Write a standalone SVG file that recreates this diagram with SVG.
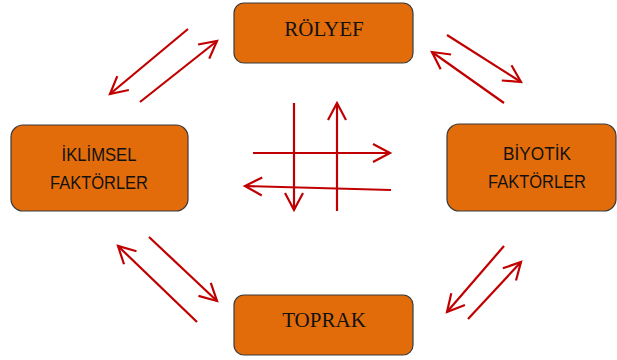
<svg xmlns="http://www.w3.org/2000/svg" width="617" height="360" viewBox="0 0 617 360">
  <defs>
    <marker id="head" viewBox="-20 -12 24 24" markerWidth="24" markerHeight="24" refX="0" refY="0" orient="auto" markerUnits="userSpaceOnUse" overflow="visible">
      <path d="M-17,-9 L0,0 L-17,9" fill="none" stroke="#C00000" stroke-width="2.2" stroke-linejoin="miter"/>
    </marker>
  </defs>
  <style>
    .box { fill: #E36C0A; stroke: #3A3A3A; stroke-width: 1.2; }
    .serif { font-family: "Liberation Serif", "Times New Roman", serif; font-size: 21px; fill: #111; text-anchor: middle; }
    .sans { font-family: "Liberation Sans", Arial, sans-serif; font-size: 17.5px; fill: #111; text-anchor: middle; }
    .arr { fill: none; stroke: #C00000; stroke-width: 2.2; marker-end: url(#head); }
  </style>
  <rect width="617" height="360" fill="#FFFFFF"/>

  <g id="rolyef">
    <rect class="box" x="234" y="3" width="179" height="60" rx="10"/>
    <text class="serif" x="324" y="36">RÖLYEF</text>
  </g>
  <g id="iklimsel">
    <rect class="box" x="11" y="125" width="177" height="86" rx="12"/>
    <text class="sans" x="99" y="161" textLength="75" lengthAdjust="spacingAndGlyphs">İKLİMSEL</text>
    <text class="sans" x="99" y="189" textLength="98" lengthAdjust="spacingAndGlyphs">FAKTÖRLER</text>
  </g>
  <g id="biyotik">
    <rect class="box" x="447" y="124" width="169" height="87" rx="12"/>
    <text class="sans" x="537" y="160" textLength="68" lengthAdjust="spacingAndGlyphs">BİYOTİK</text>
    <text class="sans" x="537" y="188" textLength="98" lengthAdjust="spacingAndGlyphs">FAKTÖRLER</text>
  </g>
  <g id="toprak">
    <rect class="box" x="234" y="295" width="179" height="60" rx="10"/>
    <text class="serif" x="324" y="327">TOPRAK</text>
  </g>

  <g id="connectors">
    <!-- centre cross -->
    <path class="arr" d="M294,103 L294,210"/>
    <path class="arr" d="M337,211 L337,103"/>
    <path class="arr" d="M253,153 L390,153"/>
    <path class="arr" d="M391,190 L245,186"/>
    <!-- top left pair -->
    <path class="arr" d="M188,29 L110,94"/>
    <path class="arr" d="M140,102 L217,41"/>
    <!-- top right pair -->
    <path class="arr" d="M447,35 L521,82"/>
    <path class="arr" d="M504,103 L432,52"/>
    <!-- bottom left pair -->
    <path class="arr" d="M149,237 L217,301"/>
    <path class="arr" d="M197,322 L118,246"/>
    <!-- bottom right pair -->
    <path class="arr" d="M504,246 L447,312"/>
    <path class="arr" d="M468,319 L521,262"/>
  </g>
</svg>
